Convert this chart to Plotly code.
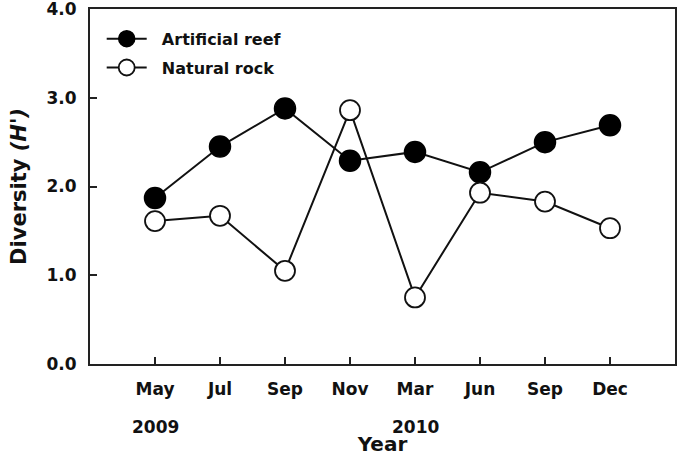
import plotly.graph_objects as go

months = ["May", "Jul", "Sep", "Nov", "Mar", "Jun", "Sep", "Dec"]
positions = [1, 2, 3, 4, 5, 6, 7, 8]
artificial_reef = [1.87, 2.45, 2.88, 2.29, 2.39, 2.16, 2.50, 2.69]
natural_rock = [1.61, 1.67, 1.05, 2.86, 0.75, 1.93, 1.83, 1.53]
year_labels = ["2009", "2010"]
year_positions = [1, 5]
y_ticks = [0, 1, 2, 3, 4]
y_ticktext = ["0.0", "1.0", "2.0", "3.0", "4.0"]

FONT = "DejaVu Sans, Liberation Sans, Arial, sans-serif"
TXT = "#111"
PAD = "\u00a0\u00a0"

fig = go.Figure()
fig.add_trace(go.Scatter(
    x=positions, y=artificial_reef, mode="lines+markers", name=PAD + "<b>Artificial reef</b>",
    legendgroup="a",
    line=dict(color="#111", width=2),
    marker=dict(symbol="circle", size=21, color="black", line=dict(color="black", width=1.5)),
))
fig.add_trace(go.Scatter(
    x=positions, y=natural_rock, mode="lines+markers", name=PAD + "<b>Natural rock</b>",
    legendgroup="b",
    line=dict(color="#111", width=2),
    marker=dict(symbol="circle", size=20, color="white", line=dict(color="#111", width=1.8)),
))

for lbl, pos in zip(year_labels, year_positions):
    fig.add_annotation(x=pos, y=-0.178, xref="x", yref="paper", text="<b>" + lbl + "</b>",
                       showarrow=False, font=dict(family=FONT, size=17, color=TXT),
                       xanchor="center", yanchor="middle")

fig.update_layout(
    width=689, height=456,
    margin=dict(l=90, r=14, t=9, b=92),
    paper_bgcolor="white", plot_bgcolor="white",
    font=dict(family=FONT, color=TXT),
    showlegend=True,
    legend=dict(x=0.02, y=0.964, xanchor="left", yanchor="top",
                bgcolor="rgba(0,0,0,0)", font=dict(family=FONT, size=16, color=TXT),
                tracegroupgap=5, itemwidth=40),
    xaxis=dict(
        range=[0, 9], tickvals=positions, ticktext=["<b>" + m + "</b>" for m in months],
        ticks="inside", ticklen=7, tickwidth=2, tickcolor="#222",
        showline=True, linecolor="#222", linewidth=2, mirror=True,
        showgrid=False, zeroline=False, automargin=False,
        tickfont=dict(family=FONT, size=17, color=TXT),
        ticklabelstandoff=9, ticklabeloverflow="allow",
        title=dict(text="<b>Year</b>", font=dict(family=FONT, size=20, color=TXT), standoff=44),
    ),
    yaxis=dict(
        range=[0, 4], tickvals=y_ticks, ticktext=["<b>" + t + "</b>" for t in y_ticktext],
        ticks="inside", ticklen=7, tickwidth=2, tickcolor="#222",
        showline=True, linecolor="#222", linewidth=2, mirror=True,
        showgrid=False, zeroline=False, automargin=False,
        tickfont=dict(family=FONT, size=17, color=TXT),
        ticklabelstandoff=8, ticklabeloverflow="allow",
        title=dict(text="<b>Diversity <i>(H')</i></b>", font=dict(family=FONT, size=21, color=TXT), standoff=14),
    ),
)

fig.write_html("out.html")
